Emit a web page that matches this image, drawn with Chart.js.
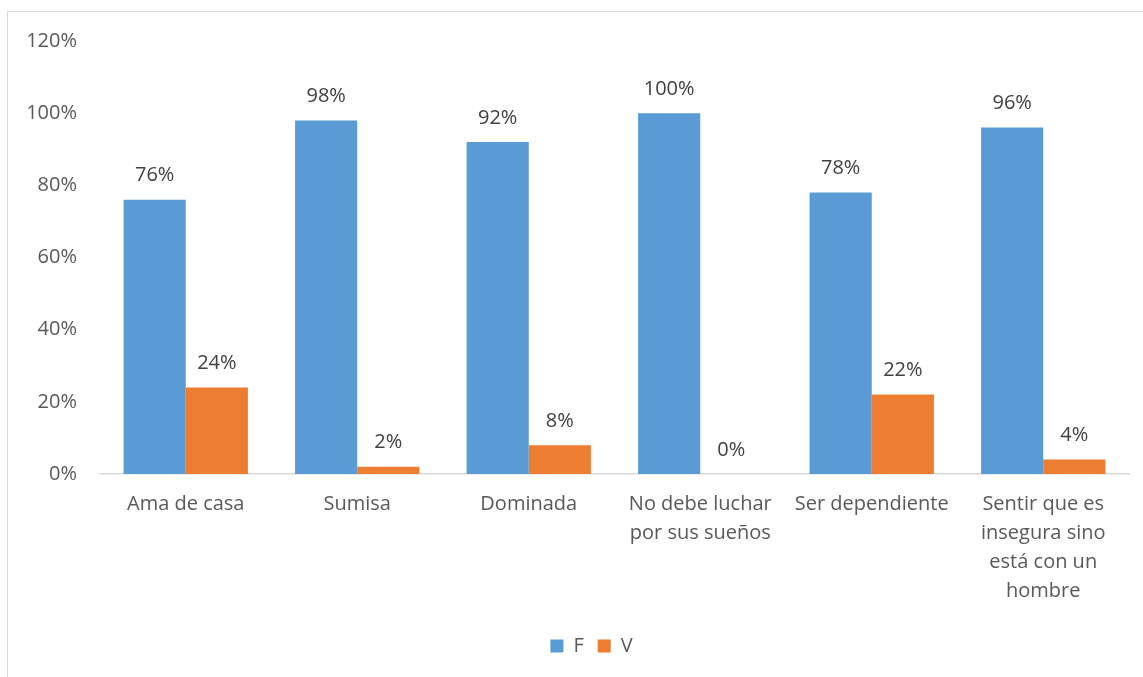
<!DOCTYPE html>
<html>
<head>
<meta charset="utf-8">
<script src="https://cdn.jsdelivr.net/npm/chart.js@4/dist/chart.umd.min.js"></script>
<style>
  html, body { margin: 0; padding: 0; background: #fff; overflow: hidden; }
  #frame { position: absolute; left: 7px; top: 11px; width: 1200px; height: 700px; border: 1px solid #d9d9d9; }
  #wrap { position: absolute; left: 0; top: 0; width: 1143px; height: 677px; }
</style>
</head>
<body>
<div id="frame"></div>
<div id="wrap"><canvas id="chart"></canvas></div>
<script>
const categories = [
  "Ama de casa",
  "Sumisa",
  "Dominada",
  ["No debe luchar", "por sus sueños"],
  "Ser dependiente",
  ["Sentir que es", "insegura sino", "está con un", "hombre"]
];
const valuesF = [76, 98, 92, 100, 78, 96];
const valuesV = [24, 2, 8, 0, 22, 4];
const yTicks = [0, 20, 40, 60, 80, 100, 120];

const FONT = "'Open Sans', 'Liberation Sans', sans-serif";

// draws the percentage above each bar
const barLabels = {
  id: "barLabels",
  afterDatasetsDraw(chart) {
    const ctx = chart.ctx;
    ctx.save();
    ctx.font = "20px " + FONT;
    ctx.fillStyle = "#404040";
    ctx.textAlign = "center";
    ctx.textBaseline = "middle";
    chart.data.datasets.forEach((ds, i) => {
      chart.getDatasetMeta(i).data.forEach((bar, j) => {
        ctx.fillText(ds.data[j] + "%", bar.x, bar.y - 24);
      });
    });
    ctx.restore();
  }
};

// nudge the legend a bit to the right, like the original
const legendShift = {
  id: "legendShift",
  afterLayout(chart) {
    chart.legend.left += 27;
    chart.legend.right += 27;
  }
};

new Chart(document.getElementById("chart"), {
  type: "bar",
  data: {
    labels: categories,
    datasets: [
      { label: "F", data: valuesF, backgroundColor: "#5b9bd5", categoryPercentage: 0.725, barPercentage: 1 },
      { label: "V", data: valuesV, backgroundColor: "#ed7d31", categoryPercentage: 0.725, barPercentage: 1 }
    ]
  },
  options: {
    responsive: true,
    maintainAspectRatio: false,
    animation: false,
    layout: { padding: { top: 41, right: 14, bottom: 11, left: 0 } },
    plugins: {
      tooltip: { enabled: false },
      legend: {
        position: "bottom",
        labels: {
          boxWidth: 13,
          boxHeight: 13,
          padding: 14,
          color: "#595959",
          font: { family: FONT, size: 20 }
        }
      }
    },
    scales: {
      x: {
        grid: { display: false, drawTicks: false },
        border: { display: true, color: "#d9d9d9", width: 1.5 },
        ticks: {
          color: "#595959",
          padding: 16,
          maxRotation: 0,
          autoSkip: false,
          font: { family: FONT, size: 20, lineHeight: 1.45 }
        }
      },
      y: {
        min: 0,
        max: 120,
        afterFit(scale) { scale.width = 100; },
        afterBuildTicks(scale) { scale.ticks = yTicks.map(v => ({ value: v })); },
        grid: { display: false, drawTicks: false },
        border: { display: false },
        ticks: {
          color: "#595959",
          padding: 23,
          font: { family: FONT, size: 20 },
          callback: v => v + "%"
        }
      }
    }
  },
  plugins: [barLabels, legendShift]
});
</script>
</body>
</html>
